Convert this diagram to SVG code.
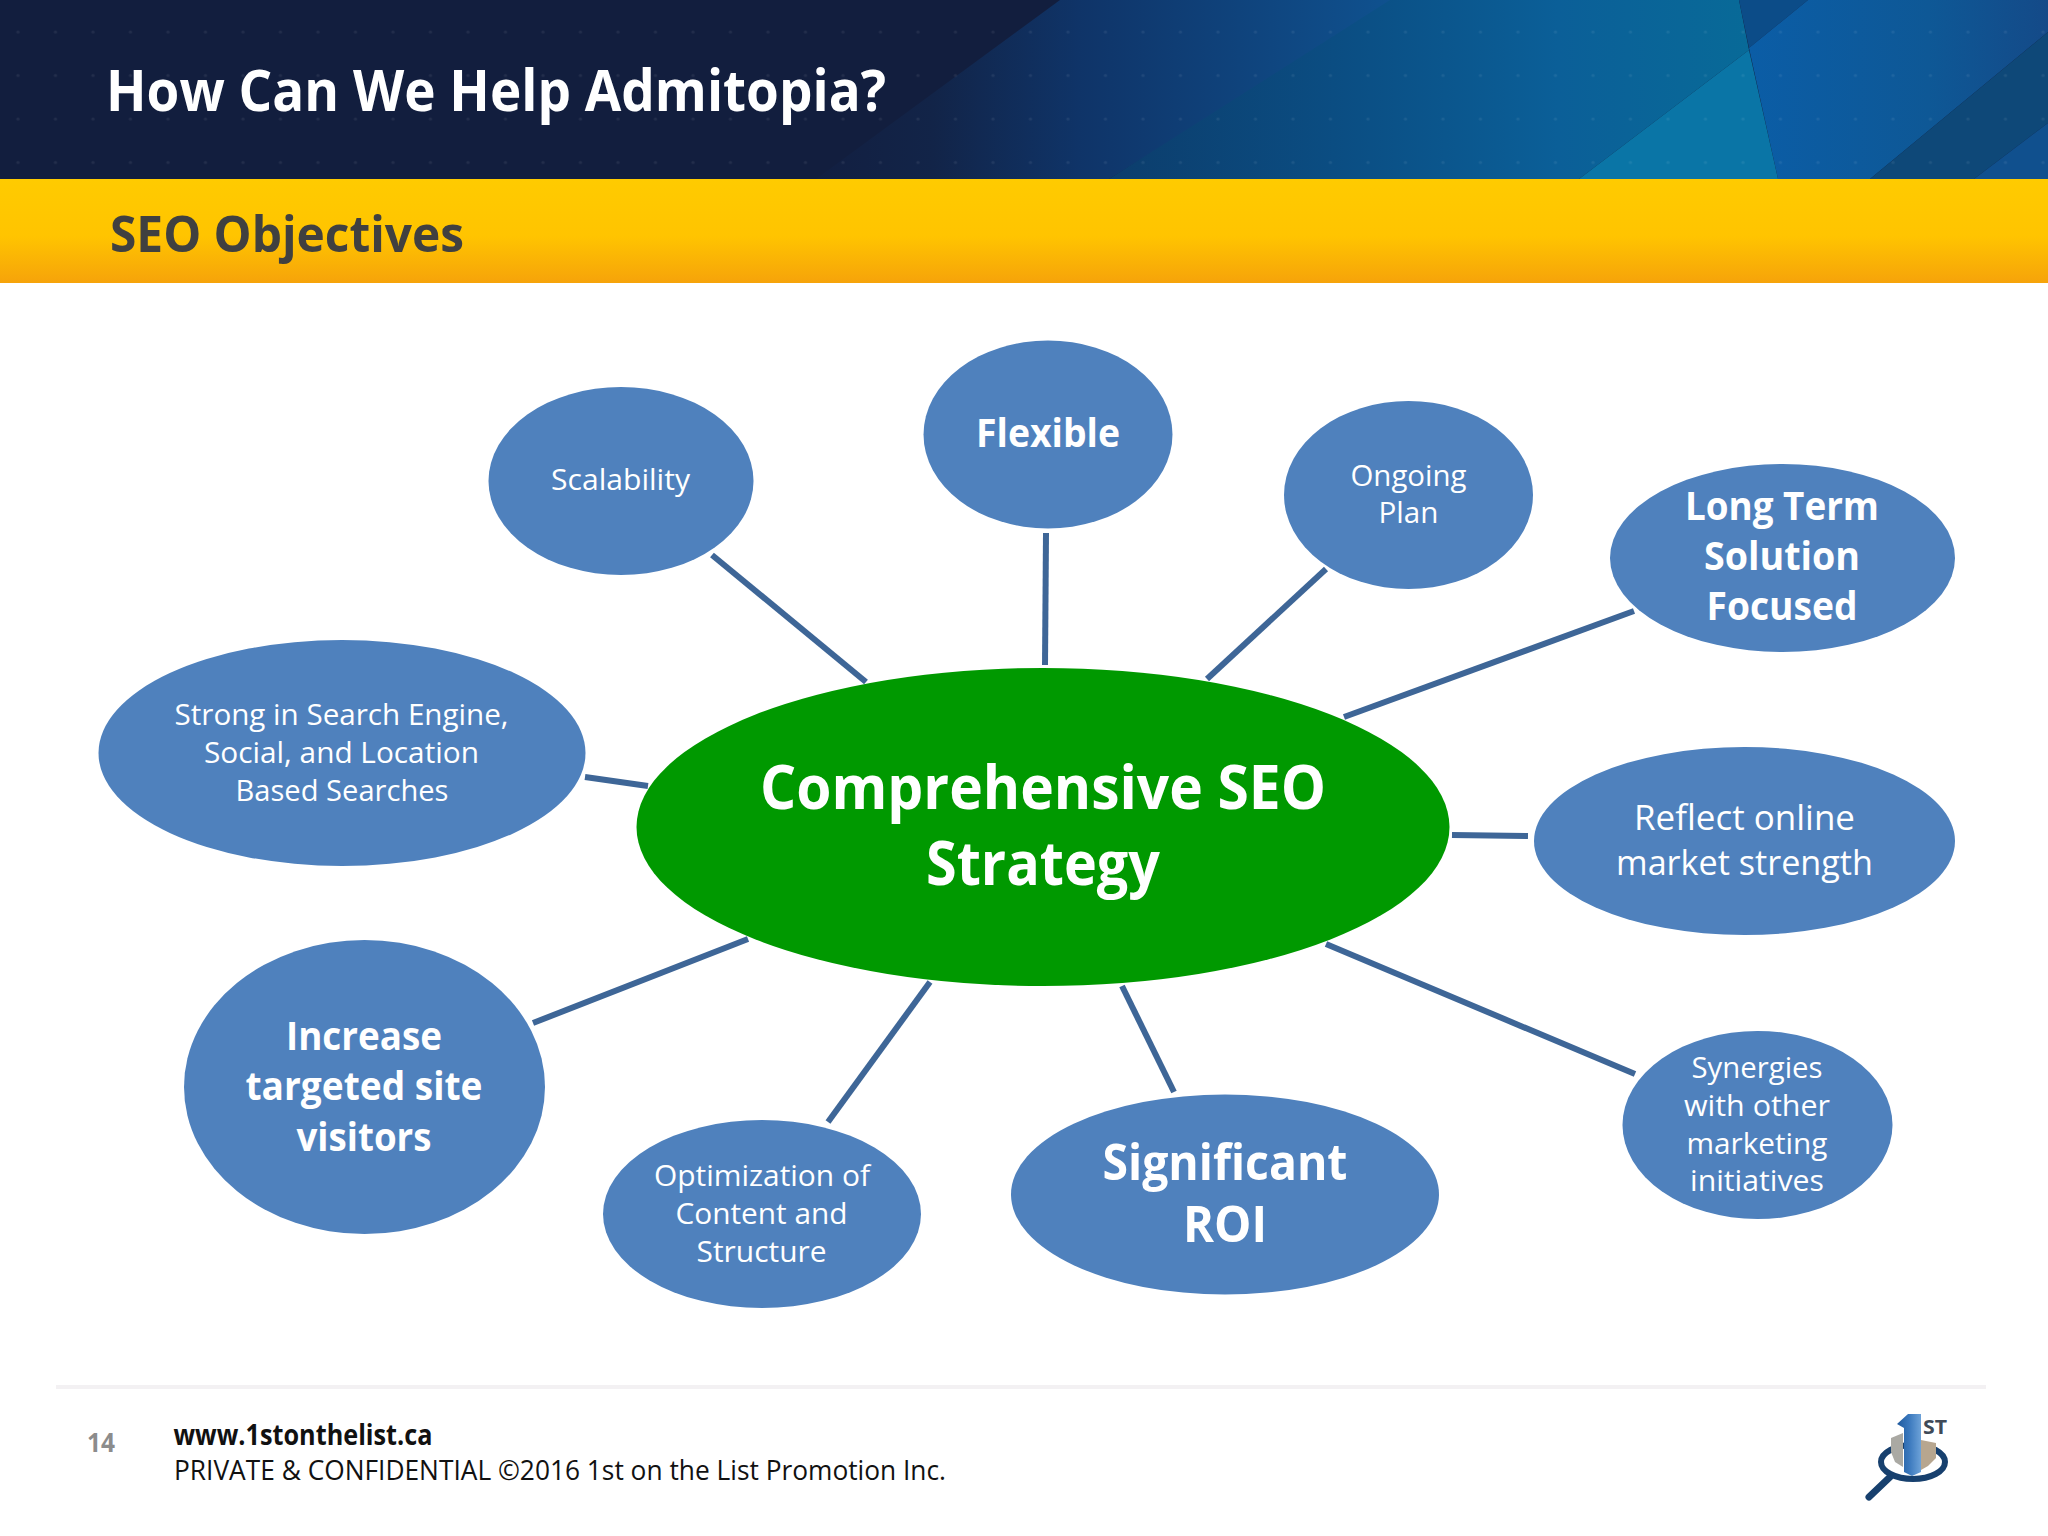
<svg xmlns="http://www.w3.org/2000/svg" width="2048" height="1536" viewBox="0 0 2048 1536">
<style>
text{font-family:"Open Sans","Noto Sans","Liberation Sans",sans-serif;text-anchor:middle;fill:#fff}
.n{fill:#4f81bd}
.b{font-weight:700}
#connectors line{stroke:#3e6697;stroke-width:6;fill:none}
</style>
<defs>
<linearGradient id="a" gradientUnits="userSpaceOnUse" x1="816" x2="1400" y1="0" y2="0">
<stop offset="0" stop-color="#121f41"/><stop offset=".2" stop-color="#122448"/><stop offset=".45" stop-color="#0f3468"/><stop offset="1" stop-color="#0f5290"/>
</linearGradient>
<linearGradient id="c" gradientUnits="userSpaceOnUse" x1="1109" x2="1750" y1="0" y2="0">
<stop offset="0" stop-color="#0c3d6c"/><stop offset=".35" stop-color="#0b4d82"/><stop offset=".7" stop-color="#0b5f98"/><stop offset="1" stop-color="#086a98"/>
</linearGradient>
<linearGradient id="d" gradientUnits="userSpaceOnUse" x1="1750" x2="2048" y1="0" y2="0">
<stop offset="0" stop-color="#0b5da6"/><stop offset=".6" stop-color="#0e5896"/><stop offset="1" stop-color="#144a88"/>
</linearGradient>
<linearGradient id="bar" x1="0" x2="0" y1="0" y2="1">
<stop offset="0" stop-color="#ffcb00"/><stop offset=".55" stop-color="#ffc400"/><stop offset="1" stop-color="#f6a30a"/>
</linearGradient>
<linearGradient id="tw" x1="0" x2="1" y1="0" y2="0">
<stop offset="0" stop-color="#1f5a9e"/><stop offset=".5" stop-color="#3a78bd"/><stop offset="1" stop-color="#6da2d8"/>
</linearGradient>
<pattern id="dots" patternUnits="userSpaceOnUse" x="0" y="10" width="37.5" height="43.5">
<circle cx="18" cy="22" r="1.6" fill="#fff" opacity=".07"/>
</pattern>
</defs>
<rect width="2048" height="1536" fill="#fff"/>
<g id="header">
<rect width="2048" height="179" fill="#121e3e"/>
<polygon points="816,179 1060,0 1400,0 1109,179" fill="url(#a)"/>
<polygon points="1109,179 1390,0 1739,0 1749,50 1579,179" fill="url(#c)"/>
<polygon points="1739,0 1808,0 1749,48" fill="#0c4c88"/>
<polygon points="1749,48 1808,0 2048,0 2048,32 1870,179 1778,179" fill="url(#d)"/>
<polygon points="1579,179 1749,50 1778,179" fill="#0a75a6"/>
<polygon points="1870,179 2048,32 2048,123 1974,179" fill="#0e4878"/>
<polygon points="1974,179 2048,123 2048,179" fill="#10508e"/>
<rect width="2048" height="179" fill="url(#dots)"/>
<text class="b" x="496" y="111" font-size="57" textLength="780" lengthAdjust="spacingAndGlyphs">How Can We Help Admitopia?</text>
</g>
<g id="subheader">
<rect y="179" width="2048" height="104" fill="url(#bar)"/>
<text class="b" x="287" y="252" font-size="50" textLength="354" lengthAdjust="spacingAndGlyphs" style="fill:#404040">SEO Objectives</text>
</g>
<g id="connectors">
<line x1="712" y1="555" x2="866" y2="682"/>
<line x1="1046" y1="533" x2="1045" y2="665"/>
<line x1="1326" y1="569" x2="1207" y2="679"/>
<line x1="1634" y1="611" x2="1344" y2="717"/>
<line x1="1452" y1="835" x2="1528" y2="836"/>
<line x1="1326" y1="944" x2="1635" y2="1074"/>
<line x1="1122" y1="986" x2="1174" y2="1092"/>
<line x1="930" y1="982" x2="828" y2="1122"/>
<line x1="748" y1="939" x2="533" y2="1023"/>
<line x1="585" y1="777" x2="648" y2="786"/>
</g>
<g id="center"><ellipse cx="1043" cy="827" rx="406.5" ry="159" fill="#009900"/>
<text class="b" font-size="60"><tspan x="1043" y="809" textLength="566" lengthAdjust="spacingAndGlyphs">Comprehensive SEO</tspan><tspan x="1043" y="885" textLength="234" lengthAdjust="spacingAndGlyphs">Strategy</tspan></text></g>
<g id="scalability"><ellipse class="n" cx="621" cy="481" rx="132.5" ry="94"/>
<text font-size="30" x="620.500" y="490" textLength="139" lengthAdjust="spacingAndGlyphs">Scalability</text></g>
<g id="flexible"><ellipse class="n" cx="1048" cy="434.500" rx="124.5" ry="94"/>
<text class="b" font-size="40" x="1048" y="447" textLength="144" lengthAdjust="spacingAndGlyphs">Flexible</text></g>
<g id="ongoing"><ellipse class="n" cx="1408.500" cy="495" rx="124.5" ry="94"/>
<text font-size="30"><tspan x="1408.500" y="486" textLength="116" lengthAdjust="spacingAndGlyphs">Ongoing</tspan><tspan x="1408.500" y="523" textLength="60" lengthAdjust="spacingAndGlyphs">Plan</tspan></text></g>
<g id="longterm"><ellipse class="n" cx="1782.500" cy="558" rx="172.500" ry="94"/>
<text class="b" font-size="40"><tspan x="1782" y="520" textLength="194" lengthAdjust="spacingAndGlyphs">Long Term</tspan><tspan x="1782" y="570" textLength="156" lengthAdjust="spacingAndGlyphs">Solution</tspan><tspan x="1782" y="620" textLength="151" lengthAdjust="spacingAndGlyphs">Focused</tspan></text></g>
<g id="reflect"><ellipse class="n" cx="1744.500" cy="841" rx="210.500" ry="94"/>
<text font-size="34"><tspan x="1744.500" y="830" textLength="221" lengthAdjust="spacingAndGlyphs">Reflect online</tspan><tspan x="1744.500" y="874.500" textLength="257" lengthAdjust="spacingAndGlyphs">market strength</tspan></text></g>
<g id="synergies"><ellipse class="n" cx="1757.500" cy="1125" rx="135" ry="94"/>
<text font-size="30"><tspan x="1757" y="1078" textLength="131" lengthAdjust="spacingAndGlyphs">Synergies</tspan><tspan x="1757" y="1116" textLength="146" lengthAdjust="spacingAndGlyphs">with other</tspan><tspan x="1757" y="1154" textLength="141" lengthAdjust="spacingAndGlyphs">marketing</tspan><tspan x="1757" y="1191" textLength="134" lengthAdjust="spacingAndGlyphs">initiatives</tspan></text></g>
<g id="roi"><ellipse class="n" cx="1225" cy="1194.500" rx="214" ry="100"/>
<text class="b" font-size="50"><tspan x="1225" y="1180" textLength="245" lengthAdjust="spacingAndGlyphs">Significant</tspan><tspan x="1225" y="1242" textLength="84" lengthAdjust="spacingAndGlyphs">ROI</tspan></text></g>
<g id="optimization"><ellipse class="n" cx="762" cy="1214" rx="159" ry="94"/>
<text font-size="30"><tspan x="762" y="1186" textLength="216" lengthAdjust="spacingAndGlyphs">Optimization of</tspan><tspan x="761.500" y="1224" textLength="172" lengthAdjust="spacingAndGlyphs">Content and</tspan><tspan x="761.500" y="1262" textLength="130" lengthAdjust="spacingAndGlyphs">Structure</tspan></text></g>
<g id="increase"><ellipse class="n" cx="364.500" cy="1087" rx="180.500" ry="147"/>
<text class="b" font-size="40"><tspan x="364" y="1050" textLength="156" lengthAdjust="spacingAndGlyphs">Increase</tspan><tspan x="364" y="1100" textLength="237" lengthAdjust="spacingAndGlyphs">targeted site</tspan><tspan x="364" y="1151" textLength="135" lengthAdjust="spacingAndGlyphs">visitors</tspan></text></g>
<g id="strong"><ellipse class="n" cx="342" cy="753" rx="243.5" ry="113"/>
<text font-size="30"><tspan x="341.500" y="725" textLength="334" lengthAdjust="spacingAndGlyphs">Strong in Search Engine,</tspan><tspan x="341.500" y="763" textLength="275" lengthAdjust="spacingAndGlyphs">Social, and Location</tspan><tspan x="342" y="800.500" textLength="213" lengthAdjust="spacingAndGlyphs">Based Searches</tspan></text></g>
<g id="footer">
<rect x="56" y="1385" width="1930" height="4" fill="#f3f1f3"/>
<text class="b" x="101" y="1452" font-size="26" textLength="28" lengthAdjust="spacingAndGlyphs" style="fill:#8c8c8c">14</text>
<text class="b" x="303" y="1445" font-size="28" textLength="259" lengthAdjust="spacingAndGlyphs" style="fill:#111">www.1stonthelist.ca</text>
<text x="560" y="1480" font-size="28" textLength="772" lengthAdjust="spacingAndGlyphs" style="fill:#111">PRIVATE &amp; CONFIDENTIAL ©2016 1st on the List Promotion Inc.</text>
</g>
<g id="logo">
<ellipse cx="1913" cy="1462" rx="32" ry="17" fill="none" stroke="#17406e" stroke-width="6"/>
<line x1="1890" y1="1477" x2="1869" y2="1497" stroke="#17406e" stroke-width="7" stroke-linecap="round"/>
<polygon points="1891,1438 1903,1433 1903,1467 1895,1462 1891,1452" fill="#aaa9a3"/>
<polygon points="1921,1440 1936,1443 1936,1458 1928,1466 1921,1470" fill="#b7a68f"/>
<polygon points="1897,1424 1908,1414 1921,1414 1921,1472 1912,1476 1904,1472 1904,1428" fill="url(#tw)"/>
<text class="b" x="1935" y="1434" font-size="19" textLength="24" lengthAdjust="spacingAndGlyphs" style="fill:#404a58">ST</text>
</g>
</svg>
